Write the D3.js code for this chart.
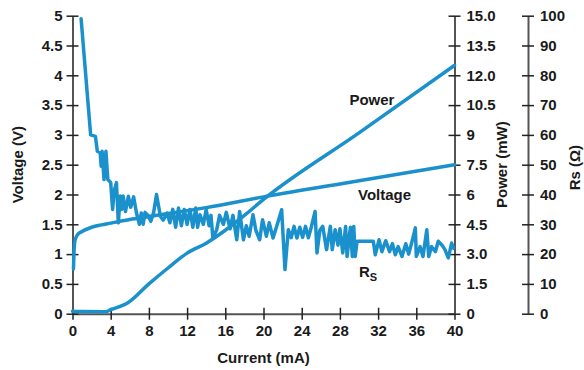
<!DOCTYPE html>
<html>
<head>
<meta charset="utf-8">
<script src="https://cdn.jsdelivr.net/npm/d3@7"></script>
<style>
  body { margin: 0; background: #fff; }
  svg text { font-family: "Liberation Sans", Arial, sans-serif; font-weight: bold; fill: #1a1a1a; }
</style>
</head>
<body>
<div id="chart"></div>
<script>
// current (mA) vs voltage (V)
const voltageData = [
  [0.1, 0.75], [0.15, 1.0], [0.25, 1.22], [0.5, 1.32], [1, 1.38], [2, 1.45], [3, 1.49],
  [4, 1.52], [6, 1.58], [8, 1.63], [10, 1.68], [14, 1.78], [20, 1.96], [30, 2.23], [40, 2.5]
];

// current (mA) vs power (mW)
const powerData = [
  [0, 0.12], [1, 0.11], [3.5, 0.1], [4, 0.2], [5.8, 0.55], [8, 1.5], [10, 2.3], [12, 3.05],
  [14, 3.55], [16, 4.2], [18, 4.95], [20, 5.75], [30, 9.1], [40, 12.5]
];

// current (mA) vs series resistance Rs (ohm)
const rsData = [
  [0.9, 99], [1.9, 60], [2.4, 59.5], [2.6, 54.5], [2.9, 54], [3.0, 49.5], [3.1, 54.5], [3.3, 45],
  [3.5, 54.5], [3.7, 45], [4.0, 44], [4.2, 35], [4.35, 41], [4.6, 44], [4.8, 30.5], [5.0, 39.5],
  [5.15, 35], [5.3, 39.5], [5.55, 34.3], [5.85, 39.4], [6.1, 35.7], [6.4, 39.2], [6.7, 33.8],
  [7.0, 30], [7.2, 33.8], [7.4, 30], [7.6, 34], [7.9, 33], [8.2, 31], [8.5, 34], [8.8, 40],
  [9.2, 32.7], [9.5, 31.4], [9.9, 33.8], [10.2, 30.5], [10.5, 35], [10.8, 29], [11.1, 35.5],
  [11.4, 29.5], [11.7, 35], [12.0, 30], [12.3, 35], [12.6, 29], [12.9, 35.5], [13.1, 29],
  [13.35, 33.2], [13.7, 30], [14.0, 34.9], [14.3, 29.5], [14.5, 33], [14.7, 25.4], [15.1, 28.2],
  [15.4, 33], [15.8, 30], [16.1, 34], [16.5, 28.5], [16.8, 33], [17.2, 24.8], [17.5, 34.3],
  [17.9, 24.8], [18.2, 29.5], [18.5, 26], [18.9, 33.2], [19.2, 28], [19.6, 24.8], [19.9, 31.5],
  [20.3, 26], [20.6, 30.5], [21.0, 25.4], [21.4, 29.5], [21.9, 34.9], [22.25, 14.8], [22.6, 28.2],
  [22.9, 25.5], [23.2, 29.3], [23.5, 25.4], [23.8, 29], [24.1, 25.6], [24.4, 29.3], [24.7, 25.5],
  [25.0, 29], [25.4, 34.3], [25.6, 20.4], [25.9, 28], [26.2, 29.3], [26.6, 21.5], [27.0, 29.3],
  [27.2, 21.5], [27.5, 28.2], [27.8, 23], [28.0, 28.5], [28.3, 20.4], [28.6, 29.3], [28.75, 19.2],
  [29.1, 29], [29.3, 19.2], [29.45, 29.3], [29.6, 19.2], [29.8, 24.3], [31.5, 24.3], [31.7, 19.8],
  [32.1, 24.8], [32.4, 20.8], [32.8, 24.5], [33.2, 20.8], [33.5, 23.5], [33.8, 19.8], [34.1, 22.5],
  [34.5, 19.2], [34.9, 23.5], [35.2, 20], [35.6, 24.8], [35.9, 28.8], [36.0, 19.2], [36.4, 22.5],
  [36.7, 19.2], [37.1, 28.2], [37.3, 19.2], [37.6, 22.5], [38.0, 20.8], [38.3, 24.3], [38.7, 23],
  [39.0, 21.5], [39.35, 18.7], [39.7, 23.7], [39.9, 22]
];

const currentTicks = [0, 4, 8, 12, 16, 20, 24, 28, 32, 36, 40];
const voltageTicks = [0, 0.5, 1, 1.5, 2, 2.5, 3, 3.5, 4, 4.5, 5];
const voltageTickLabels = ['0', '0.5', '1', '1.5', '2', '2.5', '3', '3.5', '4', '4.5', '5'];
const powerTicks = [0, 1.5, 3, 4.5, 6, 7.5, 9, 10.5, 12, 13.5, 15];
const powerTickLabels = ['0', '1.5', '3.0', '4.5', '6', '7.5', '9', '10.5', '12.0', '13.5', '15.0'];
const rsTicks = [0, 10, 20, 30, 40, 50, 60, 70, 80, 90, 100];

// in-chart labels, in data units (current, voltage)
const seriesLabels = [
  { text: 'Power', x: 29.0, y: 3.5 },
  { text: 'Voltage', x: 29.9, y: 1.91 },
  { text: 'R', sub: 'S', x: 30.0, y: 0.62 }
];

const width = 584, height = 370;
const lineColor = '#1a91cc';
const fontSize = 15;

const svg = d3.select('#chart').append('svg')
  .attr('width', width)
  .attr('height', height);

const x = d3.scaleLinear().domain([0, 40]).range([72.5, 454.5]);
const y = d3.scaleLinear().domain([0, 5]).range([313.7, 15.7]);
const yPower = d3.scaleLinear().domain([0, 15]).range(y.range());
const yRs = d3.scaleLinear().domain([0, 100]).range(y.range());
const rsAxisX = 528;

function styleAxis(g, vertical) {
  g.attr('font-family', null).attr('font-size', null);
  g.select('.domain').attr('stroke', '#555').attr('stroke-width', 2);
  g.selectAll('.tick line')
    .attr('stroke', '#222')
    .attr('stroke-width', 1.5);
  if (vertical) g.selectAll('.tick line').attr('x1', -6).attr('x2', 6);
  else g.selectAll('.tick line').attr('y1', -6).attr('y2', 6);
  g.selectAll('.tick text').attr('font-size', fontSize);
}

// axes
svg.append('g')
  .attr('transform', `translate(0,${y(0)})`)
  .call(d3.axisBottom(x).tickValues(currentTicks).tickSize(6).tickSizeOuter(0).tickPadding(6))
  .call(g => styleAxis(g, false));

svg.append('g')
  .attr('transform', `translate(${x(0)},0)`)
  .call(d3.axisLeft(y).tickValues(voltageTicks).tickSize(6).tickSizeOuter(0).tickPadding(4)
    .tickFormat((d, i) => voltageTickLabels[i]))
  .call(g => styleAxis(g, true));

svg.append('g')
  .attr('transform', `translate(${x(40)},0)`)
  .call(d3.axisRight(yPower).tickValues(powerTicks).tickSize(6).tickSizeOuter(0).tickPadding(6)
    .tickFormat((d, i) => powerTickLabels[i]))
  .call(g => styleAxis(g, true));

svg.append('g')
  .attr('transform', `translate(${rsAxisX},0)`)
  .call(d3.axisRight(yRs).tickValues(rsTicks).tickSize(6).tickSizeOuter(0).tickPadding(6))
  .call(g => styleAxis(g, true));

// axis titles
const midY = (y.range()[0] + y.range()[1]) / 2;
svg.append('text')
  .attr('transform', `translate(23,${midY}) rotate(-90)`)
  .attr('text-anchor', 'middle')
  .attr('font-size', fontSize)
  .text('Voltage (V)');

svg.append('text')
  .attr('transform', `translate(507,${midY}) rotate(-90)`)
  .attr('text-anchor', 'middle')
  .attr('font-size', fontSize)
  .text('Power (mW)');

svg.append('text')
  .attr('transform', `translate(580,${midY + 3}) rotate(-90)`)
  .attr('text-anchor', 'middle')
  .attr('font-size', fontSize)
  .text('Rs (Ω)');

svg.append('text')
  .attr('x', (x.range()[0] + x.range()[1]) / 2)
  .attr('y', 363)
  .attr('text-anchor', 'middle')
  .attr('font-size', fontSize)
  .text('Current (mA)');

// series lines
const voltageLine = d3.line().x(d => x(d[0])).y(d => y(d[1])).curve(d3.curveMonotoneX);
const powerLine = d3.line().x(d => x(d[0])).y(d => yPower(d[1])).curve(d3.curveMonotoneX);
const rsLine = d3.line().x(d => x(d[0])).y(d => yRs(d[1]));

const lines = svg.append('g')
  .attr('fill', 'none')
  .attr('stroke', lineColor)
  .attr('stroke-width', 3.5)
  .attr('stroke-linejoin', 'round')
  .attr('stroke-linecap', 'round');

lines.append('path').attr('d', voltageLine(voltageData));
lines.append('path').attr('d', powerLine(powerData));
lines.append('path').attr('d', rsLine(rsData));

// series labels
const labels = svg.selectAll('.series-label')
  .data(seriesLabels)
  .enter()
  .append('text')
  .attr('class', 'series-label')
  .attr('x', d => x(d.x))
  .attr('y', d => y(d.y))
  .attr('font-size', fontSize)
  .text(d => d.text);

labels.filter(d => d.sub)
  .append('tspan')
  .attr('font-size', 11)
  .attr('dy', 4)
  .text(d => d.sub);
</script>
</body>
</html>
